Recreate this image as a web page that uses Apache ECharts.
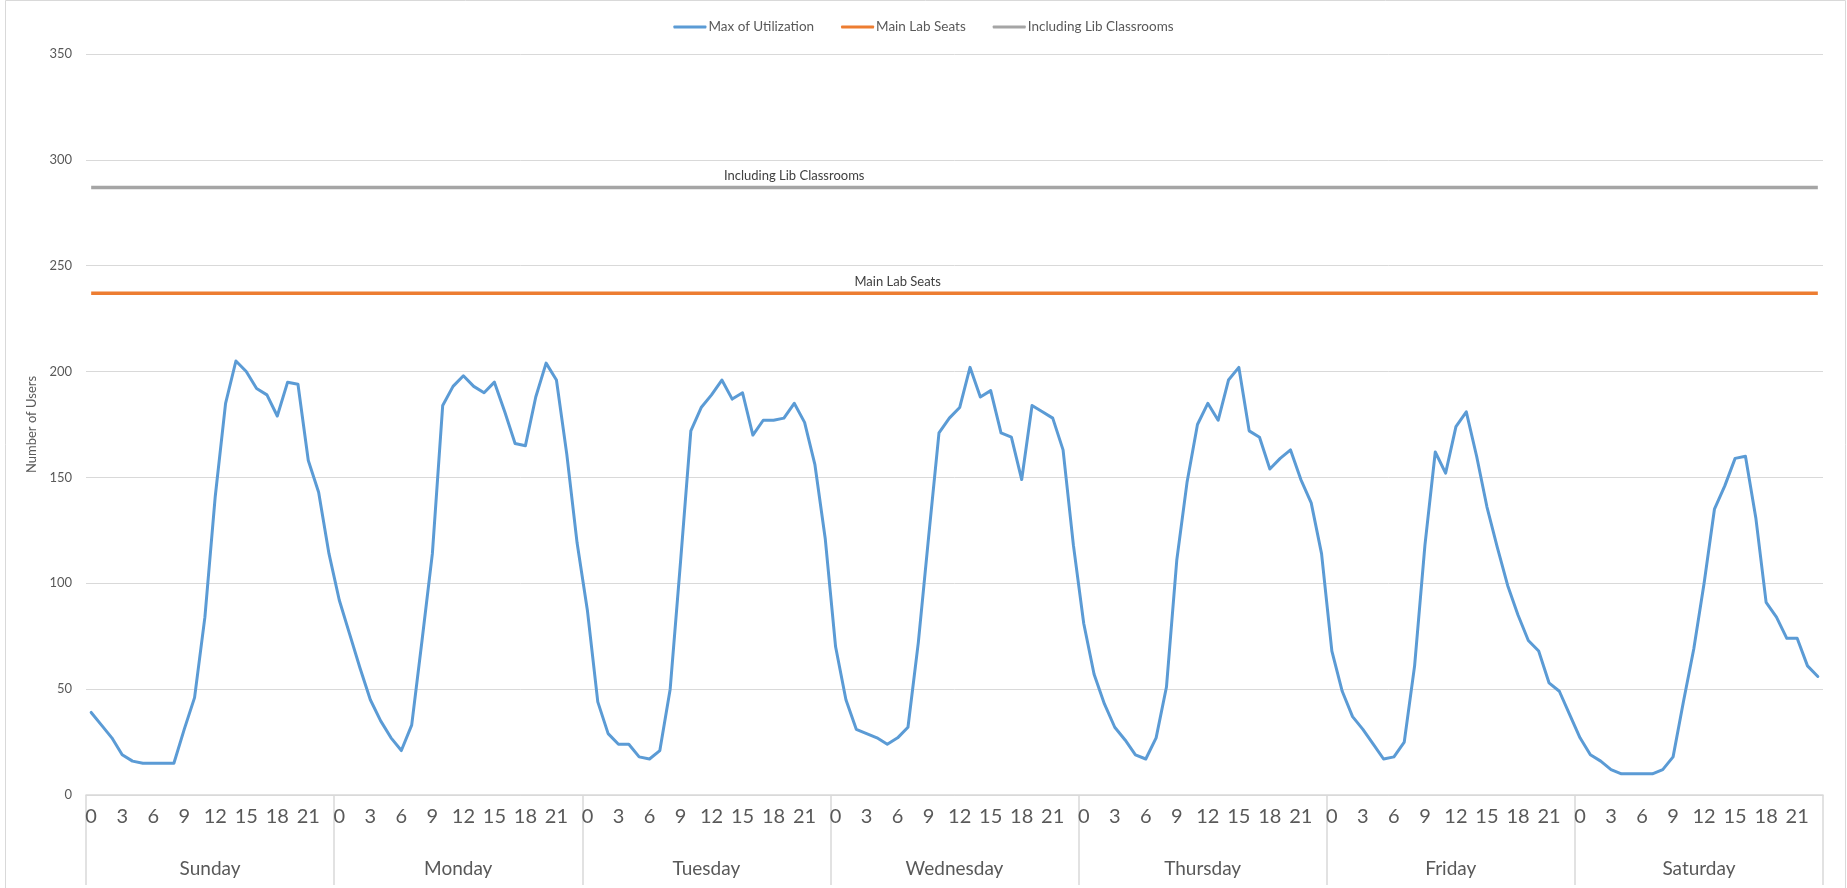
<!DOCTYPE html>
<html>
<head>
<meta charset="utf-8">
<script src="https://cdn.jsdelivr.net/npm/echarts@6/dist/echarts.min.js"></script>
<style>
html,body{margin:0;padding:0;background:#fff;}
#chart{width:1847px;height:888px;}
</style>
</head>
<body>
<div id="chart"></div>
<script>
// ---- data ----
const days = ['Sunday','Monday','Tuesday','Wednesday','Thursday','Friday','Saturday'];
const hourLabels = ['0','1','2','3','4','5','6','7','8','9','10','11','12','13','14','15','16','17','18','19','20','21','22','23'];
const sunday    = [39,33,27,19,16,15,15,15,15,31,46,84,141,185,205,200,192,189,179,195,194,158,143,114];
const monday    = [92,76,60,45,35,27,21,33,73,114,184,193,198,193,190,195,181,166,165,188,204,196,161,119];
const tuesday   = [87,44,29,24,24,18,17,21,50,110,172,183,189,196,187,190,170,177,177,178,185,176,156,121];
const wednesday = [70,45,31,29,27,24,27,32,72,122,171,178,183,202,188,191,171,169,149,184,181,178,163,118];
const thursday  = [81,57,43,32,26,19,17,27,51,111,148,175,185,177,196,202,172,169,154,159,163,149,138,114];
const friday    = [68,49,37,31,24,17,18,25,61,118,162,152,174,181,160,136,117,99,85,73,68,53,49,38];
const saturday  = [27,19,16,12,10,10,10,10,12,18,44,69,100,135,146,159,160,131,91,84,74,74,61,56];
const mainLabSeats = 237;
const includingLibClassrooms = 287;
const yTicks = {min:0, max:350, interval:50};

// ---- build ----
const weekValues = [sunday, monday, tuesday, wednesday, thursday, friday, saturday];
const categories = [];
const utilization = [];
days.forEach((d, di) => {
  hourLabels.forEach((h, hi) => {
    categories.push(h);
    utilization.push(weekValues[di][hi]);
  });
});
const mainLabel = 78, inclLabel = 68;
const refLabel = {show:true, position:'top', distance:5, color:'#404040', fontSize:13, fontFamily:'Lato'};
const mainData = categories.map((c,i) => i === mainLabel
  ? {value: mainLabSeats, label: Object.assign({}, refLabel, {formatter:'Main Lab Seats'})}
  : mainLabSeats);
const inclData = categories.map((c,i) => i === inclLabel
  ? {value: includingLibClassrooms, label: Object.assign({}, refLabel, {formatter:'Including Lib Classrooms'})}
  : includingLibClassrooms);

const chart = echarts.init(document.getElementById('chart'), null, {renderer:'canvas'});
const font = 'Lato';
chart.setOption({
  animation:false,
  backgroundColor:'#ffffff',
  textStyle:{fontFamily:font},
  graphic:[{type:'rect', shape:{x:5.5, y:0.5, width:1840, height:900}, style:{fill:'none', stroke:'#d9d9d9', lineWidth:1}, silent:true}],
  legend:{
    top:15, left:'center',
    itemWidth:33, itemHeight:3, itemGap:27,
    icon:'roundRect',
    textStyle:{color:'#595959', fontSize:13.5, fontFamily:font, padding:[0,0,0,-3]},
    data:['Max of Utilization','Main Lab Seats','Including Lib Classrooms']
  },
  grid:{left:86, right:24, top:54, bottom:93, containLabel:false},
  xAxis:[
    {
      type:'category', data:categories, position:'bottom', boundaryGap:true,
      axisLine:{show:true, lineStyle:{color:'#d9d9d9', width:1.5}},
      axisTick:{show:false},
      axisLabel:{interval:2, color:'#595959', fontSize:20, fontFamily:font, margin:12, hideOverlap:false},
      splitLine:{show:false}
    },
    {
      type:'category', data:days, position:'bottom', boundaryGap:true, gridIndex:0,
      axisLine:{show:false},
      axisTick:{show:true, interval:0, length:90, lineStyle:{color:'#d9d9d9', width:1.5}},
      axisLabel:{interval:0, color:'#595959', fontSize:19, fontFamily:font, margin:64},
      splitLine:{show:false}
    }
  ],
  yAxis:{
    type:'value', min:yTicks.min, max:yTicks.max, interval:yTicks.interval,
    name:'Number of Users', nameLocation:'middle', nameRotate:90, nameGap:44,
    nameTextStyle:{color:'#595959', fontSize:13, fontFamily:font},
    axisLine:{show:false}, axisTick:{show:false},
    axisLabel:{color:'#595959', fontSize:13, fontFamily:font, margin:14},
    splitLine:{lineStyle:{color:'#d9d9d9', width:1}}
  },
  series:[
    {name:'Max of Utilization', type:'line', data:utilization, xAxisIndex:0, symbol:'none', smooth:false,
     lineStyle:{color:'#5B9BD5', width:3, join:'round', cap:'round'}, itemStyle:{color:'#5B9BD5'}},
    {name:'Main Lab Seats', type:'line', data:mainData, xAxisIndex:0, symbol:'circle', symbolSize:0, showSymbol:true, showAllSymbol:true,
     lineStyle:{color:'#ED7D31', width:3.5}, itemStyle:{color:'#ED7D31'}},
    {name:'Including Lib Classrooms', type:'line', data:inclData, xAxisIndex:0, symbol:'circle', symbolSize:0, showSymbol:true, showAllSymbol:true,
     lineStyle:{color:'#A5A5A5', width:3.5}, itemStyle:{color:'#A5A5A5'}}
  ]
});
</script>
</body>
</html>
